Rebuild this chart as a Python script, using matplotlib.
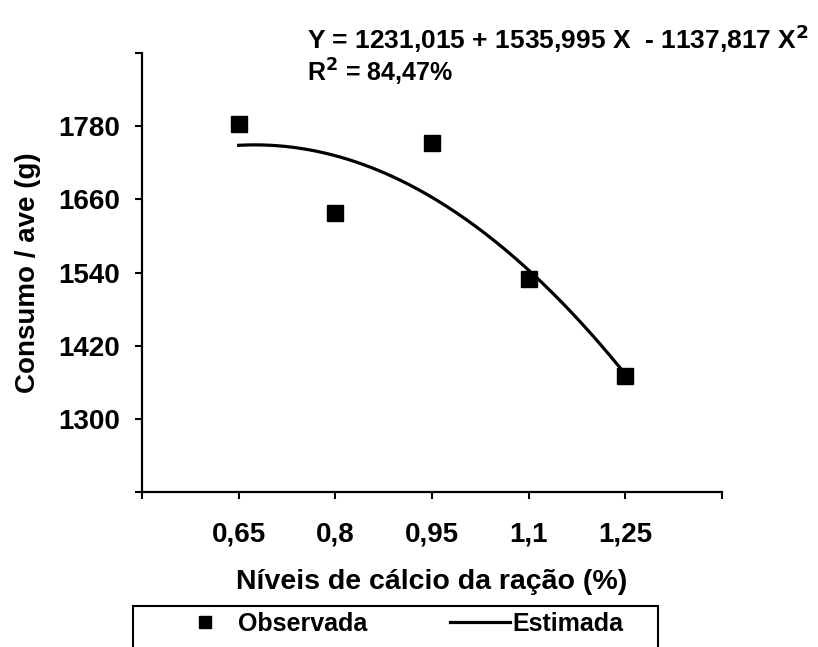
import numpy as np
import matplotlib
matplotlib.use("Agg")
import matplotlib.pyplot as plt
from matplotlib.patches import Rectangle

plt.rcParams['font.family'] = ['Liberation Sans', 'DejaVu Sans']
plt.rcParams['font.weight'] = 'bold'

# observed data
niveis = [0.65, 0.80, 0.95, 1.10, 1.25]
consumo = [1783, 1637, 1752, 1530, 1371]

# regression coefficients shown on the chart (c0 + c1 X + c2 X^2)
coef = [1231.015, 1535.995, -1137.817]

xticks = [0.5, 0.65, 0.8, 0.95, 1.1, 1.25, 1.4]
xlabels = ['', '0,65', '0,8', '0,95', '1,1', '1,25', '']
yticks = [1180, 1300, 1420, 1540, 1660, 1780, 1900]
ylabels = ['', '1300', '1420', '1540', '1660', '1780', '']

fig = plt.figure(figsize=(8.18, 6.47), dpi=100)
ax = fig.add_axes([0.1736, 0.2396, 0.709, 0.6784])

xs = np.linspace(niveis[0], niveis[-1], 200)
ys = coef[0] + coef[1] * xs + coef[2] * xs ** 2
ax.plot(niveis, consumo, 's', color='black', markersize=11.5, label='Observada')
ax.plot(xs, ys, '-', color='black', linewidth=2.3, label='Estimada')

ax.set_xlim(0.5, 1.4)
ax.set_ylim(1180, 1900)
ax.set_xticks(xticks)
ax.set_xticklabels(xlabels)
ax.set_yticks(yticks)
ax.set_yticklabels(ylabels)
ax.spines['top'].set_visible(False)
ax.spines['right'].set_visible(False)
ax.spines['left'].set_linewidth(1.6)
ax.spines['bottom'].set_linewidth(1.6)
ax.tick_params(axis='both', direction='out', length=5, width=1.5, labelsize=20)
ax.tick_params(axis='x', pad=16)
ax.tick_params(axis='y', pad=11)

ax.set_xlabel('Níveis de cálcio da ração (%)', fontsize=20.5, fontweight='bold', va='top')
ax.xaxis.set_label_coords(0.5, -0.176)
ax.set_ylabel('Consumo / ave (g)', fontsize=20, fontweight='bold', labelpad=12)

fig.text(0.375, 0.94, r'Y = 1231,015 + 1535,995 X  - 1137,817 X$^{\mathbf{2}}$',
         fontsize=19, fontweight='bold', va='center')
fig.text(0.375, 0.888, r'R$^{\mathbf{2}}$ = 84,47%', fontsize=18, fontweight='bold', va='center')

# legend box, cut by the bottom edge like the original
box = Rectangle((133 / 818, -0.05), (658 - 133) / 818, 0.05 + 1 - 606 / 647,
                transform=fig.transFigure, fill=False, edgecolor='black',
                linewidth=1.5, clip_on=False)
fig.patches.append(box)
leg = fig.legend(loc='center left', bbox_to_anchor=(175 / 818, 1 - 624 / 647),
                 ncol=2, fontsize=18, frameon=False, borderaxespad=0, borderpad=0,
                 handlelength=2.4, handletextpad=0.12, columnspacing=3.3,
                 markerscale=0.7)

fig.savefig('out.png', dpi=100)
